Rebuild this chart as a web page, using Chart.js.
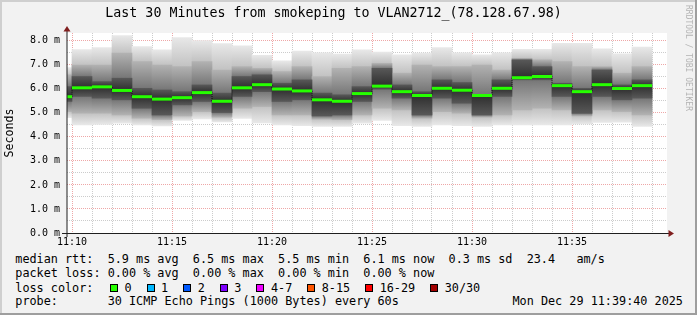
<!DOCTYPE html>
<html>
<head>
<meta charset="utf-8">
<script src="https://cdn.jsdelivr.net/npm/chart.js@4/dist/chart.umd.min.js"></script>
<style>
html,body{margin:0;padding:0;background:#f2f2f2;}
#wrap{position:relative;width:697px;height:315px;background:#f2f2f2;overflow:hidden;font-family:'DejaVu Sans Mono',monospace;color:#000;}
#c{position:absolute;left:0;top:0;}
.ln{position:absolute;left:15.3px;font-size:11.8px;line-height:14px;white-space:pre;}
#l3{display:flex;align-items:center;}
#l3 .lead{display:inline-block;width:94.7px;}
#l3 .sq{display:inline-block;width:8px;height:8px;box-sizing:border-box;border:1px solid #000;margin-right:6.5px;}
#l3 .lb{margin-right:15px;}
#stamp{position:absolute;left:512.5px;top:294px;font-size:11.8px;line-height:14px;white-space:pre;}
#wm{position:absolute;left:684px;top:5px;writing-mode:vertical-rl;font-size:8px;line-height:8px;color:#b4b4b4;white-space:pre;}
.fr{position:absolute;}
</style>
</head>
<body>
<div id="wrap">
  <canvas id="c" width="697" height="250"></canvas>
  <div class="ln" style="top:252px">median rtt:  5.9 ms avg  6.5 ms max  5.5 ms min  6.1 ms now  0.3 ms sd  23.4   am/s</div>
  <div class="ln" style="top:266px">packet loss: 0.00 % avg  0.00 % max  0.00 % min  0.00 % now</div>
  <div class="ln" id="l3" style="top:280.5px"><span class="lead">loss color:</span></div>
  <div class="ln" style="top:294px">probe:       30 ICMP Echo Pings (1000 Bytes) every 60s</div>
  <div id="stamp">Mon Dec 29 11:39:40 2025</div>
  <div id="wm">RRDTOOL / TOBI OETIKER</div>
  <div class="fr" style="left:0;top:0;width:697px;height:2px;background:#cfcfcf"></div>
  <div class="fr" style="left:0;top:0;width:2px;height:315px;background:#cfcfcf"></div>
  <div class="fr" style="left:695px;top:0;width:2px;height:315px;background:#9e9e9e"></div>
  <div class="fr" style="left:0;top:313px;width:697px;height:2px;background:#9e9e9e"></div>
</div>
<script>
// ---- data ----
const times = ['11:10','11:11','11:12','11:13','11:14','11:15','11:16','11:17','11:18','11:19',
               '11:20','11:21','11:22','11:23','11:24','11:25','11:26','11:27','11:28','11:29',
               '11:30','11:31','11:32','11:33','11:34','11:35','11:36','11:37','11:38','11:39'];
const median   = [5.67,6.04,6.08,5.93,5.67,5.57,5.63,5.84,5.48,6.04,6.17,5.99,5.91,5.54,5.48,5.80,6.11,5.88,5.72,6.02,5.94,5.72,6.02,6.46,6.51,6.13,5.88,6.17,6.01,6.13];
const smokeMin = [4.80,4.50,4.52,4.57,4.50,4.45,4.68,4.75,4.62,4.77,4.58,4.50,4.46,4.43,4.43,4.57,4.68,4.47,4.43,4.50,4.46,4.43,4.50,4.50,4.50,4.50,4.54,4.60,4.61,4.43];
const smokeMax = [6.88,7.63,7.71,8.21,7.75,7.62,8.13,8.00,7.88,7.79,7.39,7.16,7.57,7.50,7.44,7.62,7.53,7.41,7.48,7.71,7.50,7.41,7.50,7.64,7.64,7.89,7.89,7.66,7.45,7.73];
const midLow   = [5.05,4.98,4.98,4.91,4.78,4.71,4.87,5.05,4.82,5.19,5.26,4.91,4.91,4.74,4.71,4.91,5.19,5.12,4.78,5.05,4.98,4.82,4.91,5.12,5.19,5.12,4.87,5.12,5.05,4.91];
const midHigh  = [6.58,6.99,6.99,7.48,7.13,6.99,6.92,7.13,6.78,6.92,6.85,6.71,6.92,6.51,6.85,6.92,7.06,6.65,6.99,6.92,6.92,6.99,6.78,7.27,7.20,7.13,6.92,6.92,6.65,6.92];
const coreLow  = [5.47,5.68,5.61,5.54,5.19,4.91,5.33,5.47,5.01,5.68,5.88,5.47,5.54,4.87,4.91,5.47,5.98,5.61,4.91,5.61,5.40,4.91,5.68,6.37,6.37,5.68,4.98,5.68,5.54,5.61];
const coreHigh = [6.09,6.51,6.30,6.44,6.02,5.95,5.88,6.16,5.82,6.51,6.58,6.23,6.37,5.82,5.75,6.09,6.85,6.16,5.88,6.37,6.26,5.75,6.37,7.20,6.92,6.23,6.02,6.78,6.16,6.37];
const xTickLabels = ['11:10','11:15','11:20','11:25','11:30','11:35'];
const yTickValues = [0,0.5,1,1.5,2,2.5,3,3.5,4,4.5,5,5.5,6,6.5,7,7.5,8];
const xStart = '11:09:45', xEnd = '11:39:45';
const yMax = 8.32;
const lossLabels = ['0','1','2','3','4-7','8-15','16-29','30/30'];
const lossColors = ['#26ff00','#00b8ff','#0059ff','#7e00ff','#ee00ff','#ff5500','#ff0000','#a10000'];

// ---- helpers ----
const ORIGIN = 11*60 + 10;
function toMin(t){ const p = t.split(':').map(Number); return p[0]*60 + p[1] + (p[2]||0)/60 - ORIGIN; }
const centers = times.map(t => toMin(t) - 0.5);   // each sample covers the minute ending at its timestamp
const band = (lo, hi) => centers.map((x, i) => ({x, y: [lo[i], hi[i]]}));
const pts = (arr) => centers.map((x, i) => ({x, y: arr[i]}));
const labelAt = {}; xTickLabels.forEach(l => labelAt[toMin(l)] = l);

function bandFill(lo, hi, inLo, inHi, edge, inner){
  return (c) => {
    const ch = c.chart, ys = ch.scales && ch.scales.y, i = c.dataIndex;
    if (!ch.chartArea || !ys || i === undefined) return inner;
    const top = ys.getPixelForValue(hi[i]), bot = ys.getPixelForValue(lo[i]);
    if (!(bot - top > 1)) return inner;
    const clamp = v => Math.min(1, Math.max(0, v));
    let a = clamp((ys.getPixelForValue(inHi[i]) - top) / (bot - top));
    let b = clamp((ys.getPixelForValue(inLo[i]) - top) / (bot - top));
    if (b < a) b = a;
    const g = ch.ctx.createLinearGradient(0, top, 0, bot);
    g.addColorStop(0, edge); g.addColorStop(a, inner); g.addColorStop(b, inner); g.addColorStop(1, edge);
    return g;
  };
}

// legend squares
const l3 = document.getElementById('l3');
lossLabels.forEach((l, i) => {
  const s = document.createElement('span'); s.className = 'sq'; s.style.background = lossColors[i]; l3.appendChild(s);
  const t = document.createElement('span'); t.className = 'lb'; t.textContent = l; l3.appendChild(t);
});

const MONO = "'DejaVu Sans Mono', monospace";
Chart.defaults.font.family = MONO;
Chart.defaults.color = '#000';

const frame = {
  id: 'frame',
  beforeDraw(chart){
    const {ctx, chartArea: a} = chart;
    ctx.save(); ctx.fillStyle = '#ffffff';
    ctx.fillRect(a.left, a.top, a.right - a.left, a.bottom - a.top);
    ctx.restore();
  },
  afterDraw(chart){
    const {ctx, chartArea: a} = chart;
    ctx.save();
    ctx.strokeStyle = '#1f1f1f'; ctx.lineWidth = 1;
    ctx.beginPath(); ctx.moveTo(a.left - 5, a.bottom + 0.5); ctx.lineTo(a.right + 2, a.bottom + 0.5); ctx.stroke();
    ctx.beginPath(); ctx.moveTo(a.left, a.bottom + 4); ctx.lineTo(a.left, a.top - 2); ctx.stroke();
    ctx.fillStyle = '#801f1f';
    ctx.beginPath(); ctx.moveTo(a.left, a.top - 7); ctx.lineTo(a.left - 3.5, a.top - 1.5); ctx.lineTo(a.left + 3.5, a.top - 1.5); ctx.closePath(); ctx.fill();
    ctx.beginPath(); ctx.moveTo(a.right + 7, a.bottom + 0.5); ctx.lineTo(a.right + 1.5, a.bottom - 3); ctx.lineTo(a.right + 1.5, a.bottom + 4); ctx.closePath(); ctx.fill();
    ctx.restore();
  }
};

const GRID_MINOR = 'rgba(143,143,143,0.45)';
const GRID_MAJOR = 'rgba(222,79,79,0.5)';

new Chart(document.getElementById('c'), {
  type: 'bar',
  data: {
    datasets: [
      { type: 'line', label: 'median', data: pts(median), showLine: false,
        pointStyle: 'line', pointRadius: 10, pointHoverRadius: 10, pointBorderWidth: 3, pointHoverBorderWidth: 3,
        pointBorderColor: '#26ff00', pointBackgroundColor: '#26ff00', clip: 0, order: 0 },
      { type: 'line', label: 'median step', data: pts(median), stepped: 'middle', borderColor: 'rgba(0,0,0,0.85)',
        borderWidth: 1, borderDash: [1, 1], pointRadius: 0, fill: false, clip: 0, order: 1 },
      { label: 'core', data: band(coreLow, coreHigh), grouped: false, barPercentage: 1, categoryPercentage: 1,
        backgroundColor: bandFill(coreLow, coreHigh, median, median, '#585858', '#2e2e2e'), borderWidth: 0, clip: 0, order: 2 },
      { label: 'mid', data: band(midLow, midHigh), grouped: false, barPercentage: 1, categoryPercentage: 1,
        backgroundColor: bandFill(midLow, midHigh, coreLow, coreHigh, '#b2b2b2', '#767676'), borderWidth: 0, clip: 0, order: 3 },
      { label: 'outer', data: band(smokeMin, smokeMax), grouped: false, barPercentage: 1, categoryPercentage: 1,
        backgroundColor: bandFill(smokeMin, smokeMax, midLow, midHigh, '#e8e8e8', '#c2c2c2'), borderWidth: 0, clip: 0, order: 4 }
    ]
  },
  options: {
    responsive: false, maintainAspectRatio: false, animation: false,
    layout: { padding: { left: 0, right: 30, top: 0, bottom: 0 } },
    plugins: {
      legend: { display: false }, tooltip: { enabled: false },
      title: { display: true, text: 'Last 30 Minutes from smokeping to VLAN2712_(78.128.67.98)',
               font: { family: MONO, size: 13.3, weight: 'normal', lineHeight: 1.2 }, color: '#000',
               padding: { top: 6, bottom: 11.04 } }
    },
    scales: {
      x: {
        type: 'linear', min: toMin(xStart), max: toMin(xEnd), offset: false, z: 1,
        afterBuildTicks: s => { s.ticks = times.map(t => ({ value: toMin(t) })); },
        afterFit: s => { s.height = 17; },
        grid: { drawTicks: false, offset: false, lineWidth: 1,
                color: c => (c.tick && labelAt[c.tick.value] !== undefined) ? GRID_MAJOR : GRID_MINOR },
        border: { display: false, dash: [1, 1] },
        ticks: { autoSkip: false, maxRotation: 0, minRotation: 0, padding: 3, font: { size: 10 }, color: '#000',
                 callback: v => labelAt[v] !== undefined ? labelAt[v] : '' }
      },
      y: {
        type: 'linear', min: 0, max: yMax, z: 1,
        afterBuildTicks: s => { s.ticks = yTickValues.map(v => ({ value: v })); },
        afterFit: s => { s.width = 67; },
        grid: { drawTicks: false, lineWidth: 1,
                color: c => (c.tick && Number.isInteger(c.tick.value)) ? GRID_MAJOR : GRID_MINOR },
        border: { display: false, dash: [1, 1] },
        title: { display: true, text: 'Seconds', font: { family: MONO, size: 11.6, lineHeight: 1.2 }, color: '#000',
                 padding: { top: 3.5, bottom: 0 } },
        ticks: { autoSkip: false, padding: 7, font: { size: 10 }, color: '#000',
                 callback: v => Number.isInteger(v) ? v.toFixed(1) + ' m' : '' }
      }
    }
  },
  plugins: [frame]
});
</script>
</body>
</html>
